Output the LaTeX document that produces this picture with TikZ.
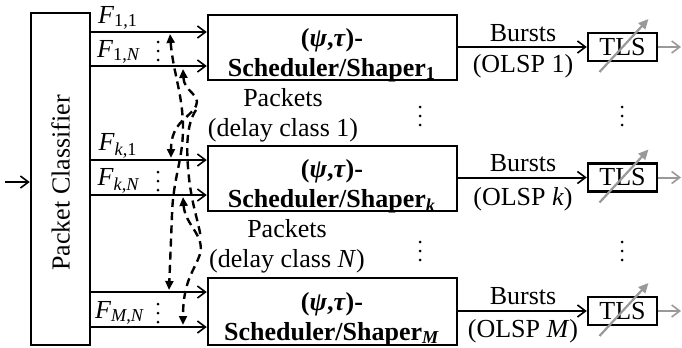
\documentclass[tikz,border=0pt]{standalone}
\usepackage{fontspec}
\setmainfont{Liberation Serif}
\usetikzlibrary{arrows.meta}
\tikzset{
  box/.style={draw, line width=1.25pt, inner sep=0pt, align=center},
  flow/.style={line width=1pt, -{Straight Barb[length=4pt,width=6pt,line width=0.8pt]}},
  egress/.style={line width=1pt, gray!80, -{Straight Barb[length=4pt,width=6pt,line width=0.8pt]}},
  tune/.style={line width=1.1pt, gray!80, -{Triangle[length=5pt,width=4.5pt]}},
  pkt/.style={line width=1.2pt, dash pattern=on 4pt off 2.6pt},
  tip/.style={{Triangle[length=4.5pt,width=4pt]}-{Triangle[length=4.5pt,width=4pt]}},
  lbl/.style={inner sep=0pt},
  blk/.style={inner sep=0pt, align=center, font=\fontsize{13}{15}\selectfont\bfseries},
}
\begin{document}
\begin{tikzpicture}[x=0.5pt, y=-0.5pt, every node/.style={font=\fontsize{13}{15}\selectfont}]
\useasboundingbox (0,0) rectangle (682,348);

% classifier and the three scheduler/shaper blocks
\node[box, minimum width=29.5pt, minimum height=166pt] (cls) at (60.5,179) {};
\node[rotate=90, lbl] (clstext) at (60.5,183) {Packet Classifier};
\node[box, minimum width=124.5pt, minimum height=32.5pt] (b1) at (332.5,47.5) {};
\node[box, minimum width=124.5pt, minimum height=32.5pt] (bk) at (332.5,178.5) {};
\node[box, minimum width=124.5pt, minimum height=33.5pt] (bm) at (332.5,311.5) {};
\node[blk] (t1) at (332,55) {(\textit{ψ},\textit{τ})-\\Scheduler/Shaper\textsubscript{1}};
\node[blk] (tk) at (332,186) {(\textit{ψ},\textit{τ})-\\Scheduler/Shaper\textsubscript{\textit{k}}};
\node[blk] (tm) at (332,319) {(\textit{ψ},\textit{τ})-\\Scheduler/Shaper\textsubscript{\textit{M}}};

% tunable laser sources
\node[box, minimum width=34.5pt, minimum height=14pt] (s1) at (622.5,47) {TLS};
\node[box, minimum width=34.5pt, minimum height=14pt] (sk) at (622.5,177.5) {TLS};
\node[box, minimum width=34.5pt, minimum height=14pt] (sm) at (622.5,311) {TLS};
\foreach \s in {s1,sk,sm}{
  \draw[tune] ([shift={(-23,25)}]\s.center) -- ([shift={(26,-28)}]\s.center);
}

% input and output links
\coordinate (in) at (5,182);
\draw[flow] (in) -- (in -| cls.west);
\coordinate (rim) at (681,0);
\foreach \s in {s1,sk,sm}{
  \draw[egress] (\s.east) -- (rim |- \s.east);
}
\foreach \b/\s in {b1/s1,bk/sk,bm/sm}{
  \draw[flow] (\b.east |- \s.west) -- (\s.west);
}

% per-flow lines out of the classifier
\foreach \y/\b in {32/b1,66/b1,160/bk,195/bk,292/bm,327/bm}{
  \coordinate (f\y) at (0,\y);
  \draw[flow] (cls.east |- f\y) -- (\b.west |- f\y);
}

% flow labels
\node[lbl] (l11) at (118,18) {\textit{F}\textsubscript{1,1}};
\node[lbl] (l1n) at (119,52) {\textit{F}\textsubscript{1,\textit{N}}};
\node[lbl] (lk1) at (118,146) {\textit{F}\textsubscript{\textit{k},1}};
\node[lbl] (lkn) at (119,181) {\textit{F}\textsubscript{\textit{k},\textit{N}}};
\node[lbl] (lmn) at (120,313) {\textit{F}\textsubscript{\textit{M},\textit{N}}};

% burst labels
\node[lbl] (bu1) at (523,33) {Bursts};
\node[lbl] (ol1) at (523,66) {(OLSP 1)};
\node[lbl] (buk) at (523,163) {Bursts};
\node[lbl] (olk) at (523,199) {(OLSP \textit{k})};
\node[lbl] (bum) at (523,296) {Bursts};
\node[lbl] (olm) at (523,331) {(OLSP \textit{M})};

% packet labels
\node[lbl, align=center] (p1) at (283,115) {Packets\\(delay class 1)};
\node[lbl, align=center] (pn) at (287,246) {Packets\\(delay class \textit{N})};

% vertical ellipses (three dots each)
\foreach \x/\y in {158/51,158/181,158/313,420/116,420/251,622/116,622/251}{
  \foreach \d in {-9,0,9}{
    \fill (\x,\y+\d) circle (1.5);
  }
}

% packet exchange between flows (dashed)
\coordinate (a11) at (170,34);
\coordinate (am1) at (169,290);
\coordinate (a1n) at (183,69);
\coordinate (ak1) at (171,158);
\coordinate (akn) at (183,197);
\coordinate (amn) at (183,325);
\draw[pkt, tip] (a11) .. controls (173,72) and (183,95) .. (183,128)
   .. controls (183,160) and (173,178) .. (172,215) -- (am1);
\draw[pkt, tip] (a1n) .. controls (184,92) and (201,94) .. (196,106)
   .. controls (190,118) and (171,122) .. (ak1);
\draw[pkt, tip] (akn) .. controls (185,225) and (205,235) .. (200,254)
   .. controls (195,270) and (183,280) .. (amn);
\draw[pkt] (196,110) .. controls (186,125) and (186,150) .. (189,178)
   .. controls (192,205) and (198,220) .. (201,238);
\end{tikzpicture}
\end{document}
